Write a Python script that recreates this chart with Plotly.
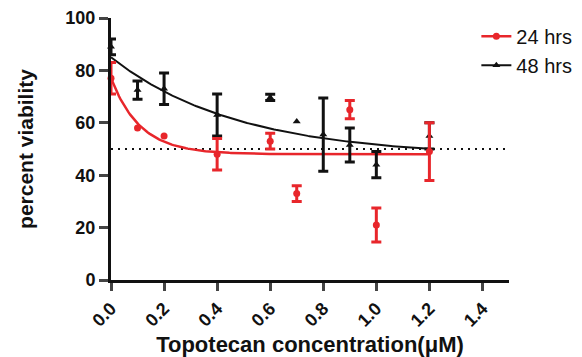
import numpy as np
import plotly.graph_objects as go

# ---- data ----
conc_24 = [0.0, 0.1, 0.2, 0.4, 0.6, 0.7, 0.9, 1.0, 1.2]
via_24 = [77, 58, 55, 48, 53, 33, 65, 21, 49]
err_24 = [6, None, None, 6, 3, 3, 3.5, 6.5, 11]

conc_48 = [0.0, 0.1, 0.2, 0.4, 0.6, 0.7, 0.8, 0.9, 1.0, 1.2]
via_48 = [89, 72.5, 73, 63, 69.7, 60.5, 55.5, 51.5, 44, 55]
err_48 = [3, 3.5, 6, 8, 1.2, None, 14, 6.5, 5, 5]

# one-phase decay fit parameters (top, plateau, rate) as drawn in the picture
fit_24 = [77, 48, 9.0]
fit_48 = [85, 47, 2.1]
fit_range = [0.0, 1.2]

reference_level = 50
xticks = [0.0, 0.2, 0.4, 0.6, 0.8, 1.0, 1.2, 1.4]
yticks = [0, 20, 40, 60, 80, 100]

RED = "#e8262b"
BLACK = "#111111"
FONT = "Liberation Sans, Arial, sans-serif"


def decay(p, x):
    top, plateau, k = p
    return plateau + (top - plateau) * np.exp(-k * x)


def split(xs, ys, es):
    with_e = [(x, y, e) for x, y, e in zip(xs, ys, es) if e is not None]
    without_e = [(x, y) for x, y, e in zip(xs, ys, es) if e is None]
    return with_e, without_e


xf = np.linspace(fit_range[0], fit_range[1], 200)

fig = go.Figure()

# reference dotted line
fig.add_trace(go.Scatter(x=[0, 1.5], y=[reference_level, reference_level], mode="lines",
                         line=dict(color=BLACK, width=2, dash="2px,5px"),
                         showlegend=False, hoverinfo="skip"))

# fitted curves
fig.add_trace(go.Scatter(x=xf, y=decay(fit_48, xf), mode="lines",
                         line=dict(color=BLACK, width=2), showlegend=False))
fig.add_trace(go.Scatter(x=xf, y=decay(fit_24, xf), mode="lines",
                         line=dict(color=RED, width=2.5), showlegend=False))

# data points with / without error bars
for xs, ys, es, color, sym in [(conc_48, via_48, err_48, BLACK, "triangle-up"),
                               (conc_24, via_24, err_24, RED, "circle")]:
    with_e, without_e = split(xs, ys, es)
    fig.add_trace(go.Scatter(x=[p[0] for p in with_e], y=[p[1] for p in with_e],
                             mode="markers", marker=dict(symbol=sym, size=7, color=color),
                             error_y=dict(type="data", array=[p[2] for p in with_e],
                                          visible=True, color=color, thickness=3, width=5),
                             showlegend=False, cliponaxis=False))
    fig.add_trace(go.Scatter(x=[p[0] for p in without_e], y=[p[1] for p in without_e],
                             mode="markers", marker=dict(symbol=sym, size=7, color=color),
                             showlegend=False, cliponaxis=False))

# legend entries
fig.add_trace(go.Scatter(x=[None], y=[None], mode="lines+markers", name="24 hrs",
                         line=dict(color=RED, width=2.5),
                         marker=dict(symbol="circle", size=7, color=RED)))
fig.add_trace(go.Scatter(x=[None], y=[None], mode="lines+markers", name="48 hrs",
                         line=dict(color=BLACK, width=2),
                         marker=dict(symbol="triangle-up", size=7, color=BLACK)))

# the page body has an 8px default margin, so the figure is sized 8px smaller
fig.update_layout(
    width=574, height=349,
    margin=dict(l=103, r=73, t=10, b=77, autoexpand=False),
    paper_bgcolor="white", plot_bgcolor="white",
    font=dict(family=FONT, color=BLACK),
    legend=dict(x=0.918, y=1.005, xanchor="left", yanchor="top",
                font=dict(size=20, family=FONT), itemwidth=30,
                bgcolor="rgba(0,0,0,0)"),
    xaxis=dict(range=[0, 1.5], tickvals=xticks, ticktext=[f"{v:.1f}" for v in xticks],
               tickangle=-45, ticks="outside", ticklen=8, tickwidth=2.5, automargin=False,
               showline=True, linecolor=BLACK, linewidth=3, showgrid=False, zeroline=False,
               tickfont=dict(size=18, family=FONT, weight="bold"),
               title=dict(text="Topotecan concentration(μM)", standoff=8,
                          font=dict(size=22, family=FONT, weight="bold"))),
    yaxis=dict(range=[0, 100], tickvals=yticks, ticks="outside", ticklen=9, tickwidth=2.5,
               automargin=False,
               showline=True, linecolor=BLACK, linewidth=3, showgrid=False, zeroline=False,
               tickfont=dict(size=18, family=FONT, weight="bold"),
               title=dict(text="percent viability", standoff=27,
                          font=dict(size=21, family=FONT, weight="bold"))),
)

fig.write_html("out.html")
